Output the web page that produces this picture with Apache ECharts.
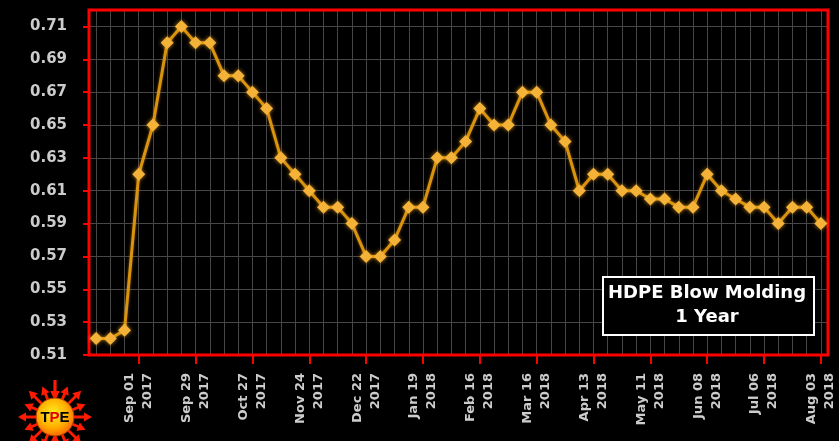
<!DOCTYPE html>
<html><head><meta charset="utf-8">
<script src="https://cdn.jsdelivr.net/npm/echarts@6/dist/echarts.min.js"></script>
<style>html,body{margin:0;padding:0;background:#000;}#c{width:839px;height:441px;}</style>
</head><body><div id="c"></div>
<script>
const categories = [
  '2017-08-11','2017-08-18','2017-08-25','2017-09-01','2017-09-08','2017-09-15','2017-09-22','2017-09-29',
  '2017-10-06','2017-10-13','2017-10-20','2017-10-27','2017-11-03','2017-11-10','2017-11-17','2017-11-24',
  '2017-12-01','2017-12-08','2017-12-15','2017-12-22','2017-12-29','2018-01-05','2018-01-12','2018-01-19',
  '2018-01-26','2018-02-02','2018-02-09','2018-02-16','2018-02-23','2018-03-02','2018-03-09','2018-03-16',
  '2018-03-23','2018-03-30','2018-04-06','2018-04-13','2018-04-20','2018-04-27','2018-05-04','2018-05-11',
  '2018-05-18','2018-05-25','2018-06-01','2018-06-08','2018-06-15','2018-06-22','2018-06-29','2018-07-06',
  '2018-07-13','2018-07-20','2018-07-27','2018-08-03'
];
const prices = [
  0.52,0.52,0.525,0.62,0.65,0.70,0.71,0.70,
  0.70,0.68,0.68,0.67,0.66,0.63,0.62,0.61,
  0.60,0.60,0.59,0.57,0.57,0.58,0.60,0.60,
  0.63,0.63,0.64,0.66,0.65,0.65,0.67,0.67,
  0.65,0.64,0.61,0.62,0.62,0.61,0.61,0.605,
  0.605,0.60,0.60,0.62,0.61,0.605,0.60,0.60,
  0.59,0.60,0.60,0.59
];
const yTickValues = [0.51,0.53,0.55,0.57,0.59,0.61,0.63,0.65,0.67,0.69,0.71];
const xLabelDates = ['2017-09-01','2017-09-29','2017-10-27','2017-11-24','2017-12-22','2018-01-19',
  '2018-02-16','2018-03-16','2018-04-13','2018-05-11','2018-06-08','2018-07-06','2018-08-03'];
const monthNames = ['Jan','Feb','Mar','Apr','May','Jun','Jul','Aug','Sep','Oct','Nov','Dec'];
const legendLines = ['HDPE Blow Molding','1 Year'];

function fmtDate(s){ const p = s.split('-'); return monthNames[+p[1]-1] + ' ' + p[2] + '\n' + p[0]; }
const showX = (i, v) => xLabelDates.indexOf(v !== undefined ? v : categories[i]) >= 0;

// logo arrows
function logoArrows(cx, cy){
  const els = [];
  for (let k = 0; k < 16; k++){
    const a = k * Math.PI / 8;
    const inward = (k === 4 || k === 12);
    const r1 = 18, r2 = (k % 2 === 0) ? 37 : 33;
    const ux = Math.cos(a), uy = Math.sin(a), px = -uy, py = ux;
    const P = (r, w) => [cx + ux*r + px*w, cy + uy*r + py*w];
    let pts;
    if (!inward){
      const hb = r2 - 8;
      pts = [P(r1,1.4), P(hb,1.4), P(hb,4.5), P(r2,0), P(hb,-4.5), P(hb,-1.4), P(r1,-1.4)];
    } else {
      const hb = r1 + 8;
      pts = [P(r2,1.6), P(hb,1.6), P(hb,4.8), P(r1-2,0), P(hb,-4.8), P(hb,-1.6), P(r2,-1.6)];
    }
    els.push({type:'polygon', shape:{points:pts}, style:{fill:'#ff1a00'}, z:10});
  }
  return els;
}

const chart = echarts.init(document.getElementById('c'));
chart.setOption({
  backgroundColor:'#000',
  animation:false,
  grid:{left:89, right:11, top:10, bottom:86, show:true, borderColor:'#ff0000', borderWidth:3, backgroundColor:'transparent', z:3},
  xAxis:{
    type:'category', data:categories, boundaryGap:true,
    axisLine:{show:false},
    axisTick:{show:true, alignWithLabel:true, interval:showX, length:9, lineStyle:{color:'#ff0000', width:2}},
    axisLabel:{interval:showX, rotate:90, formatter:fmtDate, color:'#cccccc', fontFamily:'DejaVu Sans', fontWeight:'bold', fontSize:13, lineHeight:18, margin:18},
    splitLine:{show:true, interval:0, alignWithLabel:true, lineStyle:{color:'#474747', width:1}}
  },
  yAxis:{
    type:'value', min:0.51, max:0.72, interval:0.01,
    axisLine:{show:false},
    axisTick:{show:true, customValues:yTickValues, length:6, lineStyle:{color:'#ff0000', width:2}},
    axisLabel:{customValues:yTickValues, formatter:v => v.toFixed(2), color:'#cccccc', fontFamily:'DejaVu Sans', fontWeight:'bold', fontSize:15, margin:22},
    splitLine:{show:true, lineStyle:{color:'#474747', width:1}}
  },
  series:[{
    type:'line', data:prices, symbol:'diamond', symbolSize:13, z:5, showAllSymbol:true, showSymbol:true,
    lineStyle:{color:'#D8930F', width:3, shadowColor:'rgba(255,160,0,0.5)', shadowBlur:3},
    itemStyle:{color:'#F4B338', shadowColor:'rgba(255,180,40,0.7)', shadowBlur:4}
  }],
  graphic:[
    {type:'rect', left:602, top:276, shape:{width:211, height:58}, style:{fill:'#000', stroke:'#fff', lineWidth:2}, z:20},
    {type:'text', x:707, y:284, style:{text:legendLines[0], fill:'#fff', font:'bold 18px "DejaVu Sans"', textAlign:'center'}, z:21},
    {type:'text', x:707, y:308, style:{text:legendLines[1], fill:'#fff', font:'bold 18px "DejaVu Sans"', textAlign:'center'}, z:21},
    {type:'group', children: logoArrows(55, 417).concat([
      {type:'circle', shape:{cx:55, cy:417, r:19}, style:{fill:{type:'radial', x:0.45, y:0.4, r:0.6, colorStops:[{offset:0,color:'#ffee20'},{offset:0.6,color:'#ffb000'},{offset:1,color:'#ff6a00'}]}, stroke:'#b04000', lineWidth:1}, z:11},
      {type:'text', x:55, y:418, style:{text:'{a|T}{b|P}{a|E}', textAlign:'center', textVerticalAlign:'middle', rich:{a:{fill:'#000', font:'bold 15px "Liberation Sans"'}, b:{fill:'#e00000', font:'bold 15px "Liberation Sans"'}}}, z:12}
    ])}
  ]
});
</script></body></html>
